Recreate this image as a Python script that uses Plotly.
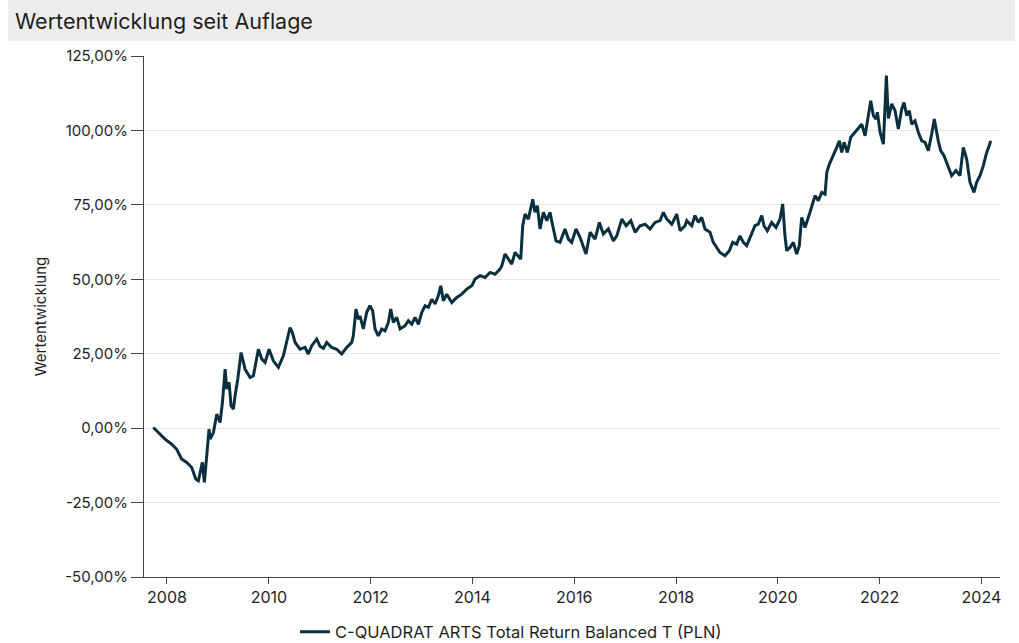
import datetime as dt
import plotly.graph_objects as go

# Data (decimal year, performance in %)
years = [
    2007.731, 2007.798, 2007.862, 2007.961, 2008.092, 2008.191, 2008.289, 2008.387, 2008.485, 2008.564,
    2008.615, 2008.694, 2008.733, 2008.825, 2008.845, 2008.910, 2008.976, 2009.041, 2009.087, 2009.140,
    2009.173, 2009.218, 2009.257, 2009.303, 2009.336, 2009.389, 2009.454, 2009.532, 2009.631, 2009.696,
    2009.794, 2009.861, 2009.926, 2010.004, 2010.088, 2010.187, 2010.285, 2010.352, 2010.417, 2010.462,
    2010.515, 2010.613, 2010.711, 2010.776, 2010.843, 2010.941, 2011.006, 2011.071, 2011.137, 2011.236,
    2011.334, 2011.432, 2011.530, 2011.629, 2011.660, 2011.713, 2011.758, 2011.792, 2011.857, 2011.923,
    2011.988, 2012.041, 2012.087, 2012.151, 2012.218, 2012.283, 2012.348, 2012.395, 2012.446, 2012.513,
    2012.578, 2012.676, 2012.741, 2012.808, 2012.872, 2012.937, 2013.004, 2013.069, 2013.134, 2013.200,
    2013.265, 2013.330, 2013.377, 2013.428, 2013.495, 2013.593, 2013.691, 2013.790, 2013.888, 2013.986,
    2014.051, 2014.149, 2014.247, 2014.346, 2014.444, 2014.542, 2014.576, 2014.641, 2014.706, 2014.772,
    2014.837, 2014.902, 2014.949, 2014.988, 2015.034, 2015.099, 2015.185, 2015.230, 2015.276, 2015.329,
    2015.394, 2015.461, 2015.525, 2015.578, 2015.643, 2015.721, 2015.820, 2015.885, 2015.951, 2016.036,
    2016.114, 2016.232, 2016.311, 2016.409, 2016.494, 2016.571, 2016.670, 2016.768, 2016.835, 2016.934,
    2017.018, 2017.110, 2017.195, 2017.293, 2017.391, 2017.489, 2017.588, 2017.686, 2017.751, 2017.818,
    2017.916, 2018.014, 2018.079, 2018.177, 2018.210, 2018.308, 2018.373, 2018.438, 2018.504, 2018.569,
    2018.667, 2018.732, 2018.799, 2018.864, 2018.963, 2019.047, 2019.114, 2019.192, 2019.257, 2019.322,
    2019.389, 2019.467, 2019.552, 2019.617, 2019.684, 2019.729, 2019.794, 2019.880, 2019.965, 2020.043,
    2020.096, 2020.141, 2020.175, 2020.240, 2020.305, 2020.371, 2020.422, 2020.469, 2020.534, 2020.632,
    2020.730, 2020.795, 2020.862, 2020.927, 2020.961, 2021.012, 2021.059, 2021.104, 2021.157, 2021.208,
    2021.255, 2021.300, 2021.365, 2021.432, 2021.517, 2021.582, 2021.648, 2021.713, 2021.758, 2021.825,
    2021.876, 2021.929, 2021.955, 2022.008, 2022.073, 2022.132, 2022.171, 2022.238, 2022.303, 2022.367,
    2022.434, 2022.479, 2022.532, 2022.583, 2022.630, 2022.695, 2022.760, 2022.827, 2022.892, 2022.957,
    2023.023, 2023.074, 2023.153, 2023.200, 2023.265, 2023.349, 2023.416, 2023.500, 2023.579, 2023.644,
    2023.711, 2023.775, 2023.854, 2023.907, 2023.972, 2024.037, 2024.104, 2024.155, 2024.182,
]
values = [
    0.2, -0.9, -2.0, -3.7, -5.4, -7.1, -10.4, -11.5, -13.2, -17.1,
    -17.7, -11.5, -18.2, -0.3, -3.7, -1.5, 4.7, 1.9, 8.6, 19.8,
    13.1, 15.4, 7.5, 6.4, 10.9, 16.5, 25.4, 19.8, 17.0, 17.6,
    26.5, 23.2, 22.1, 26.5, 22.6, 20.4, 24.3, 28.8, 33.8, 32.1,
    28.8, 26.5, 27.1, 24.9, 27.7, 29.9, 27.5, 26.8, 28.8, 27.1,
    26.5, 24.9, 27.1, 28.8, 31.0, 40.0, 36.6, 37.7, 33.3, 38.9,
    41.1, 39.4, 33.3, 31.0, 33.3, 32.7, 35.5, 40.0, 35.5, 37.2,
    33.3, 34.4, 36.1, 34.9, 37.2, 34.9, 38.9, 41.1, 40.6, 43.3,
    41.7, 44.5, 47.8, 42.8, 45.0, 42.2, 43.9, 45.0, 46.7, 47.8,
    50.1, 51.2, 50.6, 52.3, 51.7, 53.4, 54.5, 58.5, 56.8, 55.1,
    59.0, 57.9, 56.8, 68.0, 71.9, 70.2, 76.9, 72.5, 74.7, 66.9,
    72.5, 69.7, 72.5, 68.0, 62.9, 62.4, 66.9, 63.5, 62.4, 66.9,
    64.1, 58.5, 65.8, 63.5, 69.1, 65.2, 66.9, 62.9, 64.6, 70.2,
    68.0, 69.7, 65.8, 68.0, 68.5, 66.9, 69.1, 69.7, 72.5, 70.2,
    68.5, 71.9, 66.3, 68.0, 69.7, 68.0, 71.4, 69.1, 70.8, 66.9,
    65.8, 62.4, 60.7, 59.0, 57.9, 59.6, 62.4, 61.8, 64.6, 62.4,
    61.3, 64.6, 68.0, 68.5, 71.4, 68.0, 66.3, 69.1, 67.4, 70.2,
    75.3, 64.6, 59.6, 60.7, 62.4, 58.5, 61.3, 70.8, 67.4, 72.5,
    78.1, 76.4, 79.2, 78.6, 85.9, 88.7, 90.4, 92.6, 94.3, 96.5,
    92.6, 96.0, 92.6, 97.7, 99.4, 101.0, 102.1, 98.2, 102.7, 110.0,
    105.0, 103.8, 106.1, 99.4, 95.4, 118.4, 104.0, 108.9, 106.6, 100.5,
    107.2, 109.4, 105.0, 106.6, 102.1, 103.2, 99.4, 96.5, 96.0, 93.2,
    98.8, 103.8, 96.5, 93.2, 91.5, 88.1, 84.8, 86.5, 84.8, 94.3,
    90.4, 82.6, 79.2, 82.6, 84.8, 88.1, 92.6, 94.9, 96.5,
]

y_tick_vals = [-50, -25, 0, 25, 50, 75, 100, 125]
y_tick_text = ["-50,00%", "-25,00%", "0,00%", "25,00%", "50,00%", "75,00%", "100,00%", "125,00%"]
series_name = "C-QUADRAT ARTS Total Return Balanced T (PLN)"
chart_title = "Wertentwicklung seit Auflage"
y_title = "Wertentwicklung"


def to_date(y):
    year = int(y)
    start = dt.datetime(year, 1, 1)
    end = dt.datetime(year + 1, 1, 1)
    return start + (end - start) * (y - year)


dates = [to_date(y) for y in years]

FONT = "Inter, Roboto, sans-serif"
TXT = "#1e1e1e"
LINE = "#0a3040"

fig = go.Figure()
fig.add_trace(go.Scatter(
    x=dates, y=values, mode="lines", name=series_name,
    line=dict(color=LINE, width=3),
))

# Figure is a bit taller than the viewport so the legend does not push the margins;
# the page overflow is hidden so only the 1019x643 view is shown.
W, H = 1019, 670
ml, mr, mt = 144, 19, 56
plot_bottom = 577
mb = H - plot_bottom
pw, ph = W - ml - mr, H - mt - mb


def px_x(x):
    return (x - ml) / pw


def px_y(y):
    return (H - mb - y) / ph


fig.update_layout(
    width=W, height=H,
    margin=dict(l=ml, r=mr, t=mt, b=mb),
    paper_bgcolor="white", plot_bgcolor="white",
    font=dict(family=FONT, size=15, color=TXT),
    showlegend=True,
    legend=dict(orientation="h", x=px_x(511), xanchor="center", y=px_y(632), yanchor="middle",
                font=dict(size=16.5, color=TXT), itemwidth=30),
    shapes=[dict(type="rect", xref="paper", yref="paper",
                 x0=px_x(8), x1=px_x(1015), y0=px_y(41), y1=px_y(0),
                 fillcolor="#edeceb", line=dict(width=0), layer="below")],
    annotations=[dict(text=chart_title, xref="paper", yref="paper",
                      x=px_x(13), xanchor="left", y=px_y(21), yanchor="middle",
                      showarrow=False, font=dict(size=21.5, color=TXT, family=FONT))],
)

fig.update_xaxes(
    type="date",
    range=[to_date(2007.548), to_date(2024.365)],
    tick0="2008-01-01", dtick="M24", tickformat="%Y",
    showgrid=False, zeroline=False,
    showline=True, linecolor="#444", linewidth=1.2,
    ticks="outside", ticklen=6, tickcolor="#444",
    tickfont=dict(size=16, color=TXT),
)
fig.update_yaxes(
    range=[-50, 125],
    tickvals=y_tick_vals, ticktext=y_tick_text,
    showgrid=True, gridcolor="#e6e6e6", gridwidth=1,
    zeroline=False,
    showline=True, linecolor="#444", linewidth=1.2,
    ticks="outside", ticklen=12, tickcolor="#444",
    tickfont=dict(size=15, color=TXT),
    title=dict(text=y_title, font=dict(size=15, color=TXT), standoff=14),
)

fig.write_html(
    "out.html",
    config={"displayModeBar": False},
    post_script=(
        "document.body.style.margin='0';document.body.style.padding='0';"
        "document.body.style.overflow='hidden';"
        "document.documentElement.style.overflow='hidden';"
    ),
)
